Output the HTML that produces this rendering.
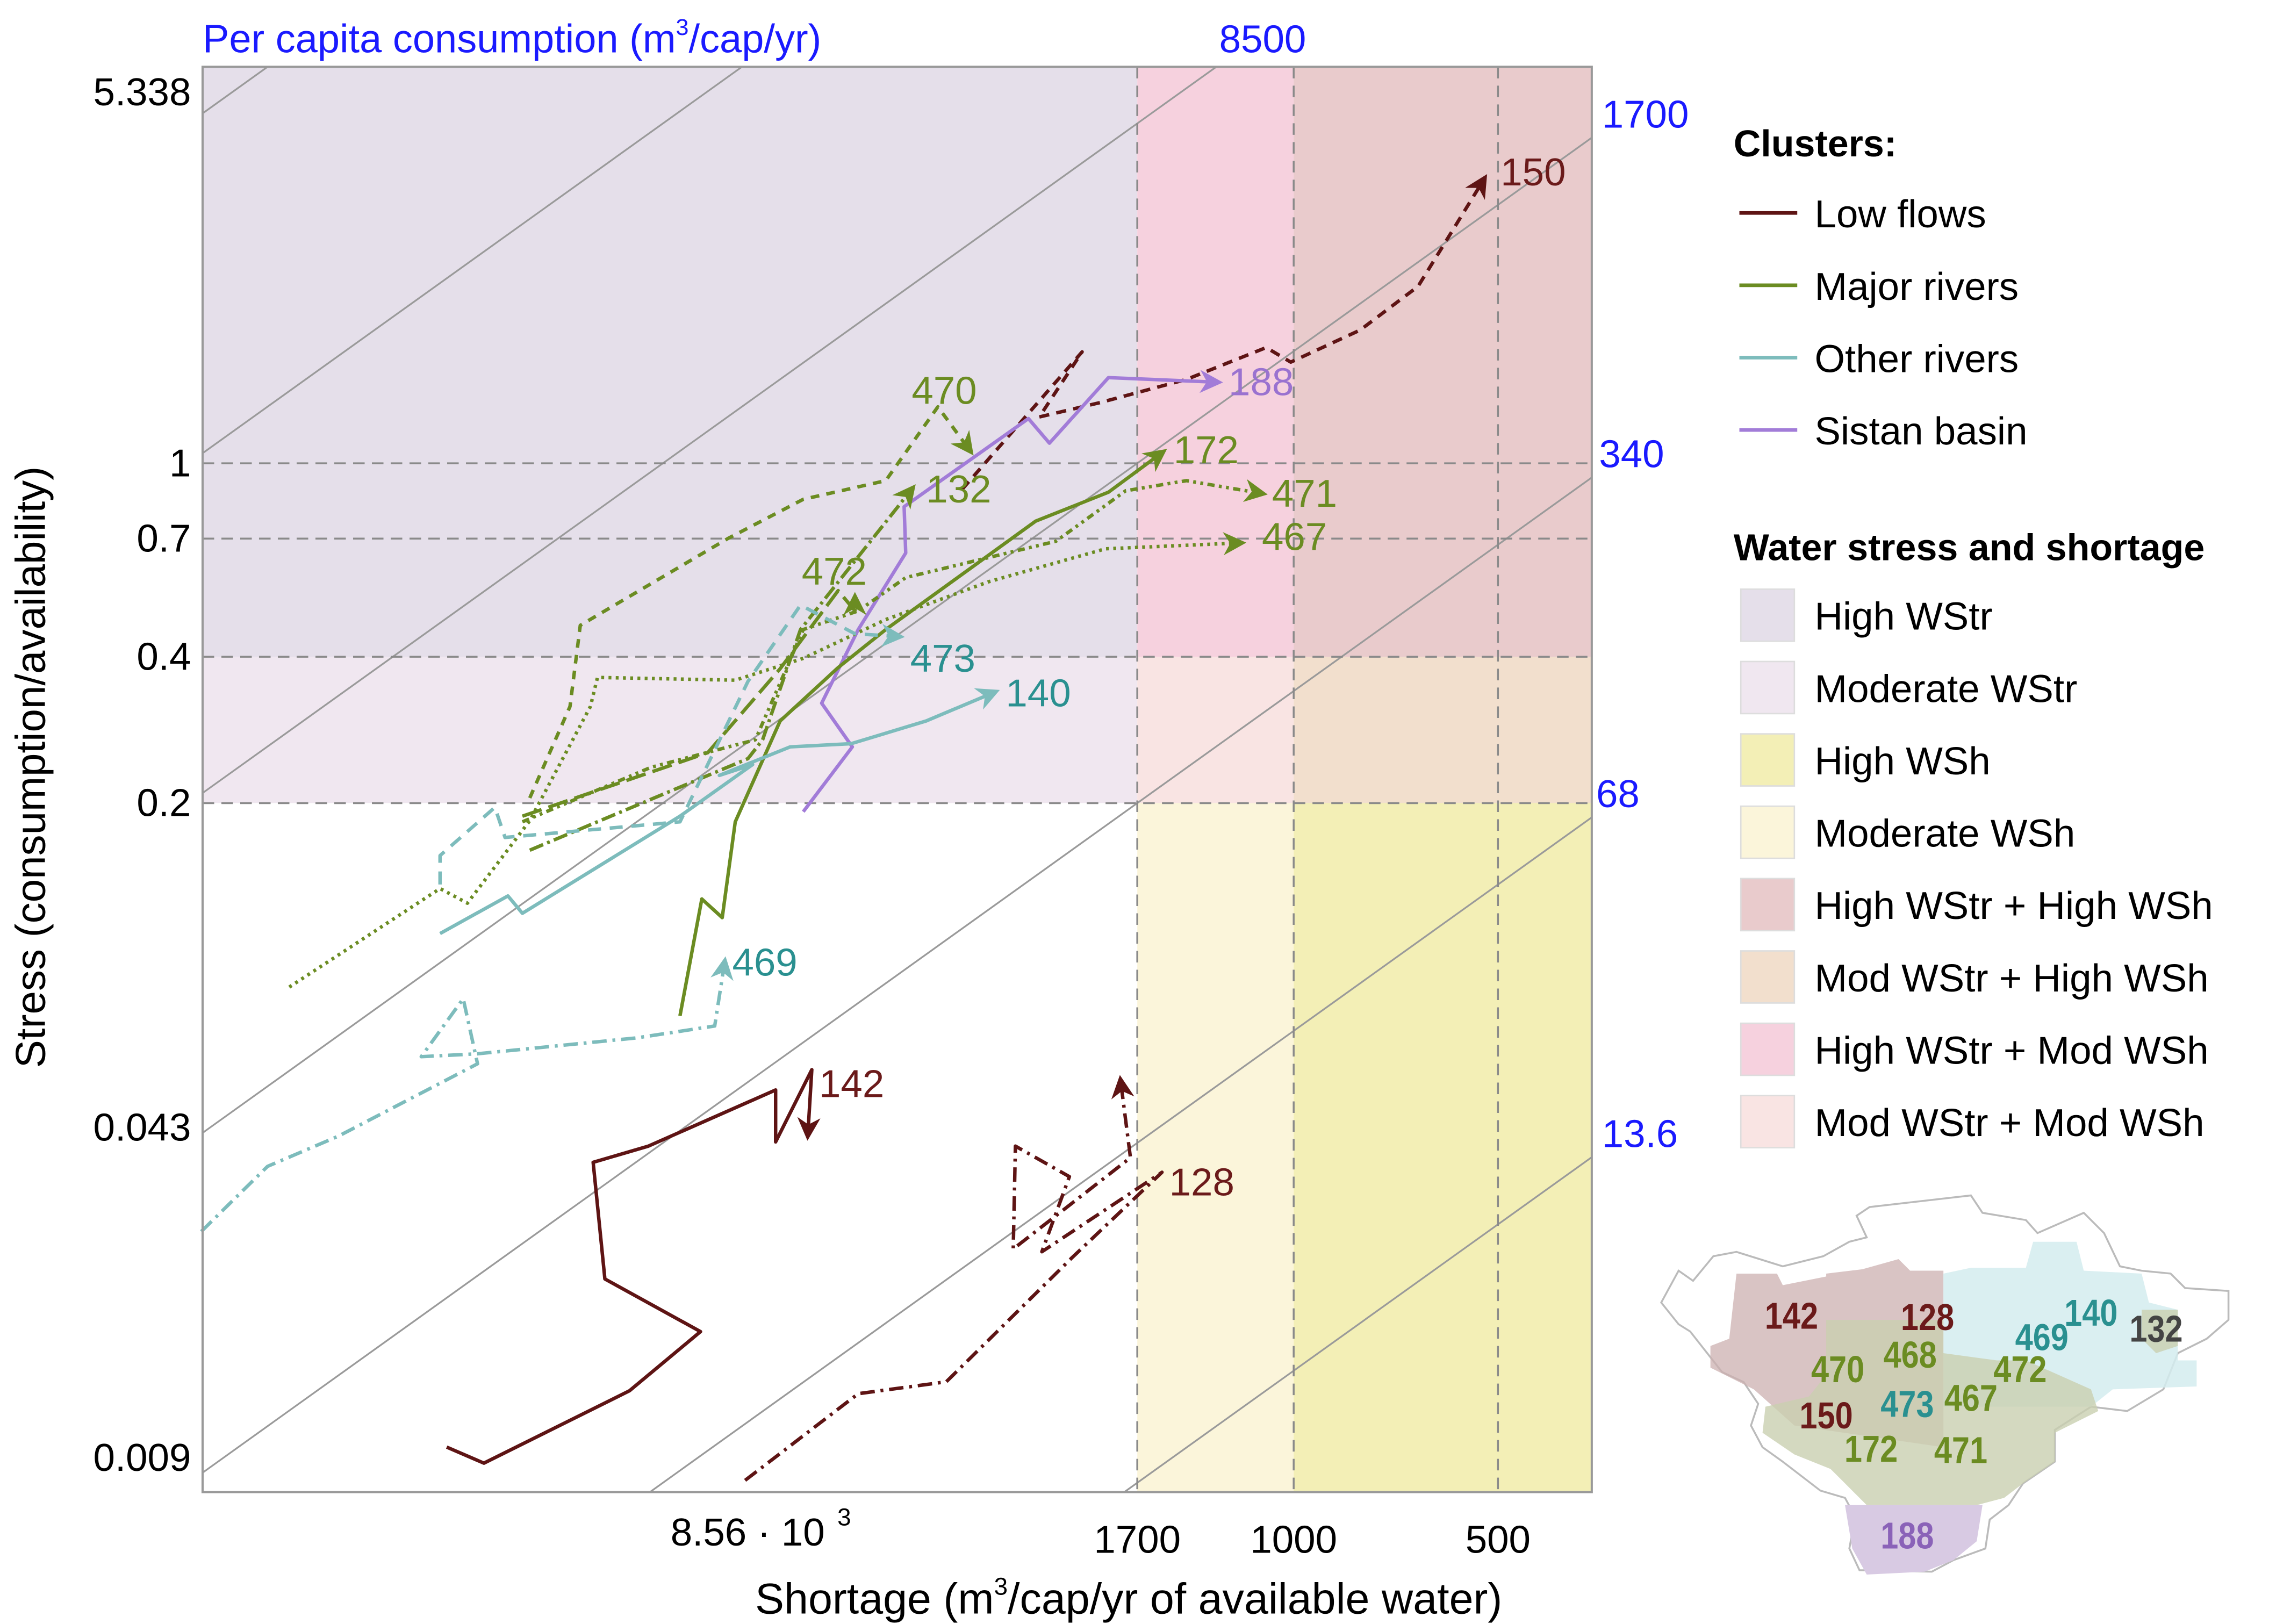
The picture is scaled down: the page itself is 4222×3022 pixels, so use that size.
<!DOCTYPE html>
<html><head><meta charset="utf-8"><style>
html,body{margin:0;padding:0;background:#fff}
svg{display:block}
text{font-family:"Liberation Sans",sans-serif}
</style></head><body>
<svg id="chart" xmlns="http://www.w3.org/2000/svg" width="4222" height="3022" viewBox="0 0 1568 1122">
<defs id="defs"></defs>
<g id="bg"></g>
<g id="grid"></g>
<g id="series"></g>
<g id="labels"></g>
<rect x="140" y="46" width="960" height="985" fill="none" stroke="#999" stroke-width="1.5"/>
<text transform="translate(31,530) rotate(-90)" text-anchor="middle" font-size="29">Stress (consumption/availability)</text>
<text x="780" y="1115" text-anchor="middle" font-size="30">Shortage (m<tspan font-size="17" dy="-13">3</tspan><tspan dy="13">/cap/yr of available water)</tspan></text>
<text x="140" y="36" font-size="27.5" fill="#1a1aff">Per capita consumption (m<tspan font-size="16" dy="-12">3</tspan><tspan dy="12">/cap/yr)</tspan></text>
<g id="legend"></g>
<g id="map"></g>
</svg>
<script>
const NS='http://www.w3.org/2000/svg';
const yTicks=[5.338,1,0.7,0.4,0.2,0.043,0.009];
const yTickLabels=['5.338','1','0.7','0.4','0.2','0.043','0.009'];
const xTicks=[1700,1000,500];
const xTickLabels=['1700','1000','500'];
const consumptionLines=[212500,42500,8500,1700,340,68,13.6,2.72];
const consumptionLabels=['8500','1700','340','68','13.6'];
const consumptionLabelValues=[8500,1700,340,68,13.6];
const stressThresholds=[0.4,0.2];
const shortageThresholds=[1700,1000];

const s142_a=[17700,15600,9520,7480,10350,10770,8930,5800,5800,5130,5200];
const s142_s=[0.00947,0.00878,0.01237,0.01637,0.021,0.0365,0.0394,0.0514,0.0402,0.0566,0.0413];
const s128_a=[6430,4380,3250,2130,1563,2350,2140,2570,2590,1740,1800];
const s128_s=[0.00809,0.0122,0.0129,0.0231,0.0348,0.0239,0.0341,0.0394,0.0242,0.0373,0.054];
const s150_a=[3080,2050,2370,1930,1438,1098,1010,798,656,594,523];
const s150_s=[0.884,1.695,1.245,1.333,1.488,1.73,1.615,1.88,2.31,2.89,3.86];
const s188_a=[5280,4470,4960,4380,3730,3750,2460,2290,1875,1291];
const s188_s=[0.192,0.261,0.321,0.455,0.654,0.814,1.236,1.10,1.50,1.468];
const s172_a=[8020,7450,6950,6650,5710,4690,3990,2400,1875,1556];
const s172_s=[0.073,0.127,0.1163,0.183,0.295,0.38,0.455,0.76,0.872,1.056];
const s470_a=[13350,11650,11250,6820,5280,3990,3345,2990];
const s470_s=[0.205,0.316,0.464,0.70,0.843,0.921,1.306,1.056];
const s471_a=[13690,8850,6210,5280,4380,3730,2240,1768,1438,1109];
const s471_s=[0.183,0.237,0.27,0.455,0.497,0.582,0.691,0.878,0.921,0.866];
const s467_a=[30200,18100,16500,13350,10870,10610,6650,5280,3990,2820,1893,1193];
const s467_s=[0.0837,0.1334,0.1245,0.184,0.316,0.3626,0.358,0.397,0.477,0.57,0.667,0.686];
const s472_a=[13690,11080,7300,5710,4690,4430,4430];
const s472_s=[0.188,0.208,0.254,0.378,0.547,0.497,0.532];
const s132_a=[13350,6370,6060,5330,3640];
const s132_s=[0.16,0.247,0.27,0.455,0.89];
const s140_a=[18100,14380,13690,8020,6270,7020,5520,4490,3480,2750];
const s140_s=[0.1078,0.1289,0.1187,0.188,0.24,0.228,0.261,0.265,0.295,0.339];
const s473_a=[18100,18100,15030,14520,8020,6370,5330,4430,3800];
const s473_s=[0.136,0.156,0.196,0.17,0.183,0.356,0.511,0.446,0.44];
const s469_a=[40700,32500,25560,15940,16740,19300,15940,9290,7130,6890];
const s469_s=[0.0263,0.0358,0.0413,0.0582,0.0792,0.0602,0.061,0.0658,0.0696,0.0947];

const L=140,R=1100,T=46,B=1031;
function xS(a){return 894-469*Math.log10(a/1000);}
function yS(s){return 320-336*Math.log10(s);}
function el(tag,attrs,parent,txt){const e=document.createElementNS(NS,tag);for(const k in attrs)e.setAttribute(k,attrs[k]);if(txt!==undefined)e.textContent=txt;parent.appendChild(e);return e;}

const bg=document.getElementById('bg');
const xa=xS(shortageThresholds[0]), xb=xS(shortageThresholds[1]);
const yh=yS(stressThresholds[0]), ym=yS(stressThresholds[1]);
const regions=[
 ['high-wstr-region',L,T,xa-L,yh-T,'#e5dfea'],
 ['moderate-wstr-region',L,yh,xa-L,ym-yh,'#f0e7f0'],
 ['high-wstr-mod-wsh-region',xa,T,xb-xa,yh-T,'#f6d1de'],
 ['high-wstr-high-wsh-region',xb,T,R-xb,yh-T,'#e9cbcc'],
 ['mod-wstr-mod-wsh-region',xa,yh,xb-xa,ym-yh,'#f9e4e3'],
 ['mod-wstr-high-wsh-region',xb,yh,R-xb,ym-yh,'#f2dfcd'],
 ['moderate-wsh-region',xa,ym,xb-xa,B-ym,'#fbf5da'],
 ['high-wsh-region',xb,ym,R-xb,B-ym,'#f3efb6']];
regions.forEach(r=>{const e=el('rect',{x:r[1],y:r[2],width:r[3],height:r[4],fill:r[5]},bg);

});

const grid=document.getElementById('grid');
consumptionLines.forEach(C=>{
 const sL=C/Math.pow(10,3+(894-L)/469), sR=C/Math.pow(10,3+(894-R)/469);
 let p1=[L,yS(sL)],p2=[R,yS(sR)];
 const slope=(p2[1]-p1[1])/(p2[0]-p1[0]);
 if(p1[1]>B){p1=[L+(B-p1[1])/slope,B];}
 if(p2[1]<T){p2=[p1[0]+(T-p1[1])/slope,T];}
 if(p1[0]>R||p2[0]<L||p1[1]<T)return;
 const e=el('line',{x1:p1[0],y1:p1[1],x2:p2[0],y2:p2[1],stroke:'#9a9a9a','stroke-width':1.2},grid);
 
 
});
yTicks.forEach((v,i)=>{const y=yS(v);
 if(v<=1&&v>=0.2){const e=el('line',{x1:L,y1:y,x2:R,y2:y,stroke:'#8a8a8a','stroke-width':1.3,'stroke-dasharray':'8,5'},grid);
 
 }
 const t=el('text',{x:132,y:(i===0?yS(v)-3:y+9),'text-anchor':'end','font-size':27},grid,yTickLabels[i]);
 
 
});
xTicks.forEach((v,i)=>{const x=xS(v);
 const e=el('line',{x1:x,y1:T,x2:x,y2:B,stroke:'#8a8a8a','stroke-width':1.3,'stroke-dasharray':'8,5'},grid);
 
 
 const t=el('text',{x:x,y:1073,'text-anchor':'middle','font-size':27},grid,xTickLabels[i]);
 
 
});
const t856=el('text',{x:xS(8560)+60,y:1068,'text-anchor':'middle','font-size':27},grid,'8.56 · 10');


const t3=el('text',{x:xS(8560)+122,y:1054,'font-size':17},grid,'3');


consumptionLabelValues.forEach((C,i)=>{
 let x,y;
 if(i===0){const s=Math.pow(10,(320-T)/336);x=xS(C/s)+32;y=36;}
 else{const a=Math.pow(10,3+(894-R)/469);y=yS(C/a)-7;x=R+(i===2?5:i===3?3:7);}
 const t=el('text',{x:x,y:y,'text-anchor':i===0?'middle':'start','font-size':27,fill:'#1a1aff'},grid,consumptionLabels[i]);
 
 
});

const defs=document.getElementById('defs');
const colors={red:'#5e1414',green:'#6b8c22',teal:'#7dbcbc',purple:'#a27cd8'};
const labelColors={red:'#6b1a1a',green:'#6b8c22',teal:'#2a9090',purple:'#9a72d0'};
for(const c in colors){
 const m=el('marker',{id:'arr-'+c,viewBox:'0 0 10 10',refX:8,refY:5,markerWidth:16,markerHeight:16,markerUnits:'userSpaceOnUse',orient:'auto'},defs);
 el('path',{d:'M0,0 L10,5 L0,10 L3,5 Z',fill:colors[c]},m);
}
const seriesDefs=[
 ['142',s142_a,s142_s,'red','',[566,758]],
 ['128',s128_a,s128_s,'red','10,4,2,4',[808,826]],
 ['150',s150_a,s150_s,'red','7,5',[1037,128]],
 ['188',s188_a,s188_s,'purple','',[849,273]],
 ['172',s172_a,s172_s,'green','',[811,320]],
 ['470',s470_a,s470_s,'green','6,5',[630,279]],
 ['471',s471_a,s471_s,'green','5,3,2,3,2,3',[879,350]],
 ['467',s467_a,s467_s,'green','2,3',[872,380]],
 ['472',s472_a,s472_s,'green','14,5',[554,404]],
 ['132',s132_a,s132_s,'green','10,3,2,3',[640,347]],
 ['140',s140_a,s140_s,'teal','',[695,488]],
 ['473',s473_a,s473_s,'teal','9,6',[629,464]],
 ['469',s469_a,s469_s,'teal','10,4,2,4',[506,674]]];
const sg=document.getElementById('series'), lg=document.getElementById('labels');
seriesDefs.forEach(sd=>{
 const d=sd[1].map((a,i)=>(i?'L':'M')+xS(a).toFixed(1)+','+yS(sd[2][i]).toFixed(1)).join(' ');
 const attrs={d:d,fill:'none',stroke:colors[sd[3]],'stroke-width':2.4,'stroke-linejoin':'round','marker-end':'url(#arr-'+sd[3]+')'};
 if(sd[4])attrs['stroke-dasharray']=sd[4];
 const p=el('path',attrs,sg);
 
 
 const t=el('text',{x:sd[5][0],y:sd[5][1],'font-size':27,fill:labelColors[sd[3]]},lg,sd[0]);
 
 
});

const leg=document.getElementById('legend');
const lt=el('text',{x:1198,y:108,'font-size':26,'font-weight':'bold'},leg,'Clusters:');


const clusterNames=['Low flows','Major rivers','Other rivers','Sistan basin'];
const clusterCols=[colors.red,colors.green,colors.teal,colors.purple];
clusterNames.forEach((n,i)=>{const y=147+i*50;
 const g=el('g',{},leg);
 
 
 el('line',{x1:1202,x2:1242,y1:y,y2:y,stroke:clusterCols[i],'stroke-width':2.5},g);
 el('text',{x:1254,y:y+10,'font-size':27},g,n);});
const lt2=el('text',{x:1198,y:387,'font-size':26,'font-weight':'bold'},leg,'Water stress and shortage');


const wNames=['High WStr','Moderate WStr','High WSh','Moderate WSh','High WStr + High WSh','Mod WStr + High WSh','High WStr + Mod WSh','Mod WStr + Mod WSh'];
const wCols=['#e5dfea','#f0e7f0','#f3efb6','#fbf5da','#e9cbcc','#f2dfcd','#f6d1de','#f9e4e3'];
wNames.forEach((n,i)=>{const y=425+i*50;
 const g=el('g',{},leg);
 
 
 el('rect',{x:1203,y:y-18,width:37,height:36,fill:wCols[i],stroke:'#ddd','stroke-width':1},g);
 el('text',{x:1254,y:y+10,'font-size':27},g,n);});

const map=document.getElementById('map');
el('path',{d:'M1148,900 L1160,878 L1170,885 L1184,868 L1200,865 L1232,875 L1260,868 L1278,858 L1290,855 L1283,840 L1292,834 L1362,826 L1370,838 L1400,843 L1408,852 L1440,838 L1454,852 L1465,875 L1480,878 L1500,880 L1510,890 L1540,892 L1540,912 L1525,925 L1505,935 L1495,960 L1470,975 L1445,972 L1420,988 L1420,1010 L1398,1025 L1388,1040 L1375,1050 L1372,1070 L1350,1078 L1335,1086 L1285,1085 L1278,1070 L1282,1048 L1275,1035 L1258,1030 L1232,1010 L1218,1000 L1210,985 L1215,970 L1205,955 L1190,948 L1168,920 L1160,915 Z',fill:'#fff',stroke:'#bbb','stroke-width':1.3},map);
el('path',{d:'M1200,880 L1228,880 L1232,888 L1262,882 L1262,880 L1287,877 L1312,870 L1320,878 L1343,878 L1343,1000 L1240,985 L1212,960 L1182,945 L1182,930 L1195,925 Z',fill:'#ccb0b0',opacity:0.75},map);
el('path',{d:'M1343,880 L1362,876 L1400,876 L1405,858 L1435,858 L1440,878 L1480,880 L1485,900 L1505,905 L1505,940 L1518,940 L1518,958 L1460,960 L1445,972 L1343,972 Z',fill:'#d4ecef',opacity:0.85},map);
el('path',{d:'M1262,912 L1343,912 L1343,935 L1380,940 L1400,940 L1445,960 L1450,975 L1420,990 L1420,1010 L1398,1025 L1385,1035 L1366,1040 L1290,1040 L1280,1030 L1265,1015 L1240,1005 L1218,990 L1220,972 L1250,965 L1262,950 Z',fill:'#c9cfb0',opacity:0.8},map);
el('path',{d:'M1480,905 L1505,905 L1505,930 L1490,935 L1480,925 Z',fill:'#c9cfb0',opacity:0.8},map);
el('path',{d:'M1275,1040 L1370,1040 L1366,1065 L1350,1078 L1330,1086 L1290,1088 L1280,1070 Z',fill:'#d8cae3'},map);
const mapLabels=['142','128','140','132','469','470','468','472','473','467','150','172','471','188'];
const mapLabelX=[1238,1332,1445,1490,1411,1270,1320,1396,1318,1362,1262,1293,1355,1318];
const mapLabelY=[918,919,916,927,933,955,945,955,979,975,987,1010,1011,1070];
const mapLabelC=['#6b1a1a','#6b1a1a','#2a9090','#444','#2a9090','#6b8c22','#6b8c22','#6b8c22','#2a9090','#6b8c22','#6b1a1a','#6b8c22','#6b8c22','#8a62b8'];
mapLabels.forEach((n,i)=>{const t=el('text',{x:mapLabelX[i],y:mapLabelY[i],'text-anchor':'middle','font-size':26,'font-weight':'bold',fill:mapLabelC[i],transform:'translate('+mapLabelX[i]+',0) scale(0.85,1) translate('+(-mapLabelX[i])+',0)'},map,n);
 
 });
</script>
</body></html>
